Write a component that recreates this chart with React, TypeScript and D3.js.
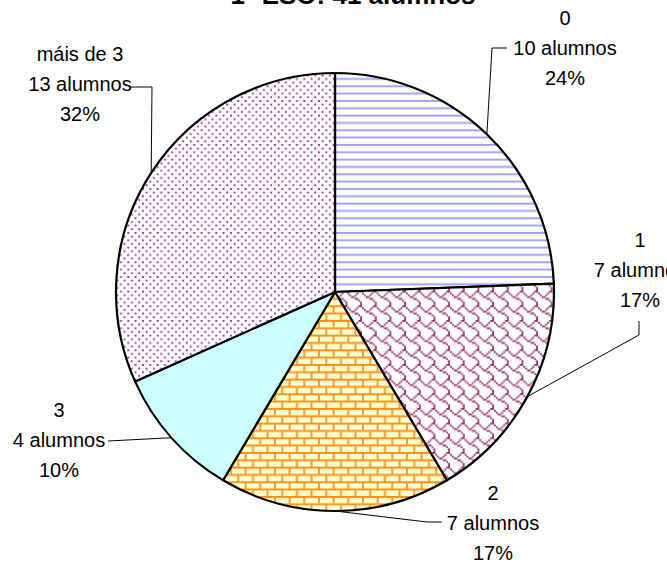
import React, { useEffect, useRef } from 'react';
import * as d3 from 'd3';

const chartTitle = '1º ESO: 41 alumnos';
const categories = ['0', '1', '2', '3', 'máis de 3'];
const alumnos = [10, 7, 7, 4, 13];

// 8x8 Excel style fill bitmaps, one per slice (null = solid fill)
const fills = [
  { rows: [0xff, 0, 0, 0, 0xff, 0, 0, 0], fg: '#9c9cf6', bg: '#ffffff' },
  { rows: [0x03, 0x84, 0x48, 0x30, 0x0c, 0x02, 0x01, 0x01], fg: '#993366', bg: '#ffffff' },
  { rows: [0xff, 0x80, 0x80, 0x80, 0xff, 0x08, 0x08, 0x08], fg: '#ff8a14', bg: '#ffffcc' },
  { rows: null, fg: '#ccffff', bg: '#ccffff' },
  { rows: [0x88, 0, 0x22, 0, 0x88, 0, 0x22, 0], fg: '#8e2b8e', bg: '#ffffff' },
];

// where each data label sits, and the bends of its leader line
const labelLayout = [
  { x: 565, y: 55, path: [[492, 48], [507, 48]] },
  { x: 640, y: 277, path: [[639, 335], [639, 321]] },
  { x: 493, y: 530, path: [[427, 522], [442, 522]] },
  { x: 59, y: 447, path: [[108, 441]] },
  { x: 80, y: 91, path: [[152, 87], [131, 87]] },
];

export default function App() {
  const ref = useRef<SVGSVGElement>(null);

  useEffect(() => {
    const width = 667;
    const height = 566;
    const cx = 335;
    const cy = 292;
    const radius = 219;
    const px = 1.8333; // size of one bitmap pixel

    const svg = d3.select(ref.current);
    svg.selectAll('*').remove();

    const total = d3.sum(alumnos);
    const data = categories.map((c, i) => ({ cat: c, value: alumnos[i], i }));

    // patterns
    const defs = svg.append('defs');
    fills.forEach((f, i) => {
      if (!f.rows) return;
      const pat = defs.append('pattern')
        .attr('id', 'fill' + i)
        .attr('patternUnits', 'userSpaceOnUse')
        .attr('x', cx)
        .attr('y', cy)
        .attr('width', 8 * px)
        .attr('height', 8 * px);
      pat.append('rect')
        .attr('width', 8 * px)
        .attr('height', 8 * px)
        .attr('fill', f.bg);
      f.rows.forEach((row, r) => {
        let c = 0;
        while (c < 8) {
          if (row & (0x80 >> c)) {
            let e = c;
            while (e < 8 && (row & (0x80 >> e))) e++;
            pat.append('rect')
              .attr('x', c * px)
              .attr('y', r * px)
              .attr('width', (e - c) * px)
              .attr('height', px)
              .attr('fill', f.fg);
            c = e;
          } else {
            c++;
          }
        }
      });
    });

    svg.append('rect')
      .attr('width', width)
      .attr('height', height)
      .attr('fill', '#ffffff');

    const pie = d3.pie<any>()
      .value(d => d.value)
      .sort(null);

    const arc = d3.arc<any>()
      .innerRadius(0)
      .outerRadius(radius);

    const edgeArc = d3.arc<any>()
      .innerRadius(radius)
      .outerRadius(radius);

    const arcs = pie(data);

    const plot = svg.append('g')
      .attr('transform', 'translate(' + cx + ',' + cy + ')');

    plot.selectAll('.slice')
      .data(arcs)
      .enter()
      .append('path')
      .attr('class', 'slice')
      .attr('d', arc)
      .attr('fill', d => fills[d.data.i].rows ? 'url(#fill' + d.data.i + ')' : fills[d.data.i].fg)
      .attr('stroke', '#000')
      .attr('stroke-width', 2.2)
      .attr('stroke-linejoin', 'round');

    // leader lines
    svg.selectAll('.leader')
      .data(arcs)
      .enter()
      .append('path')
      .attr('class', 'leader')
      .attr('d', d => {
        const [ex, ey] = edgeArc.centroid(d);
        const pts = [[cx + ex, cy + ey], ...labelLayout[d.data.i].path];
        return d3.line()(pts as [number, number][]);
      })
      .attr('fill', 'none')
      .attr('stroke', '#000')
      .attr('stroke-width', 1);

    // labels
    const labels = svg.selectAll('.label')
      .data(arcs)
      .enter()
      .append('text')
      .attr('class', 'label')
      .attr('text-anchor', 'middle')
      .attr('font-family', '"Liberation Sans", Arial, sans-serif')
      .attr('font-size', 20)
      .attr('fill', '#000');

    labels.each(function (d) {
      const lay = labelLayout[d.data.i];
      const t = d3.select(this);
      const lines = [d.data.cat, d.data.value + ' alumnos', Math.round(d.data.value / total * 100) + '%'];
      lines.forEach((s, k) => {
        t.append('tspan')
          .attr('x', lay.x)
          .attr('y', lay.y + (k - 1) * 30)
          .text(s);
      });
    });

    svg.append('text')
      .attr('x', 353)
      .attr('y', 4)
      .attr('text-anchor', 'middle')
      .attr('font-family', '"Liberation Sans", Arial, sans-serif')
      .attr('font-weight', 'bold')
      .attr('font-size', 26)
      .attr('fill', '#000')
      .text(chartTitle);
  }, []);

  return (
    <svg
      ref={ref}
      width={667}
      height={566}
      style={{ position: 'absolute', left: 0, top: 0 }}
    />
  );
}
